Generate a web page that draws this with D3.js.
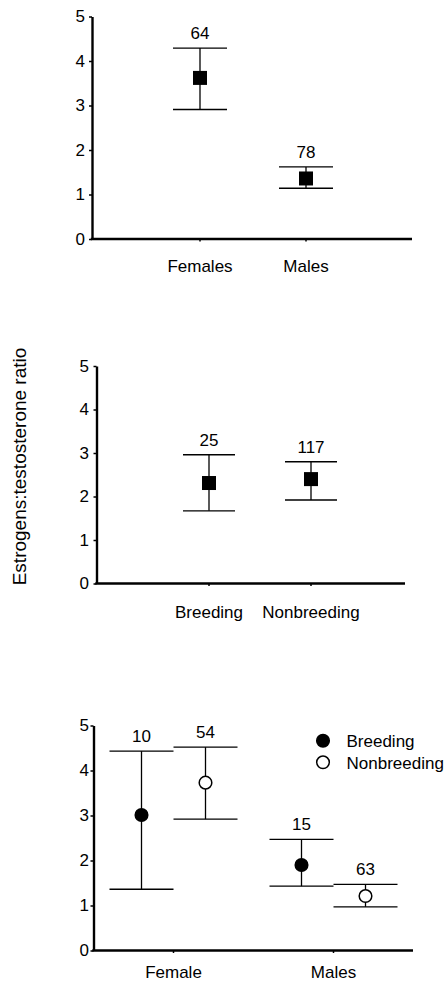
<!DOCTYPE html>
<html><head><meta charset="utf-8">
<script src="https://cdn.jsdelivr.net/npm/d3@7"></script>
<style>
body{margin:0;background:#fff}
svg{display:block}
text{font-family:"Liberation Sans",Arial,Helvetica,sans-serif;fill:#000}
</style>
</head><body>
<svg id="c" width="447" height="982"></svg>
<script>
// ---------------- DATA ----------------
const yTicks = [0, 1, 2, 3, 4, 5];
const yAxisTitle = "Estrogens:testosterone ratio";

// Panel A: by sex
const sexCategories = ["Females", "Males"];
const sexMeans = [3.62, 1.36];
const sexUpper = [4.29, 1.62];
const sexLower = [2.91, 1.14];
const sexN = [64, 78];

// Panel B: by season
const seasonCategories = ["Breeding", "Nonbreeding"];
const seasonMeans = [2.31, 2.40];
const seasonUpper = [2.96, 2.80];
const seasonLower = [1.67, 1.92];
const seasonN = [25, 117];

// Panel C: sex x season
const groupCategories = ["Female", "Males"];
const seriesNames = ["Breeding", "Nonbreeding"];
const breedingMeans = [3.01, 1.90];
const breedingUpper = [4.43, 2.47];
const breedingLower = [1.36, 1.43];
const breedingN = [10, 15];
const nonbreedingMeans = [3.73, 1.21];
const nonbreedingUpper = [4.52, 1.47];
const nonbreedingLower = [2.92, 0.97];
const nonbreedingN = [54, 63];

// ---------------- LAYOUT ----------------
const svg = d3.select("#c");
const FS = 17;

const layout = [
  {axisX: 92,   xEnd: 412, y0: 239,   y5: 16.5,  cat: [94, 412],   capHalf: 27, tickPad: 4, labelDy: 33},
  {axisX: 96.5, xEnd: 405, y0: 583.5, y5: 366,   cat: [107, 413],  capHalf: 26, tickPad: 4.5, labelDy: 34.5},
  {axisX: 93.5, xEnd: 413, y0: 950.5, y5: 725.5, cat: [93.5, 413.5], capHalf: 32, tickPad: 1.5, labelDy: 27.5}
];
const nGap = 9;

function axes(L) {
  const y = d3.scaleLinear().domain([0, 5]).range([L.y0, L.y5]);
  const g = svg.append("g");
  const ya = g.append("g").attr("transform", `translate(${L.axisX},0)`)
    .call(d3.axisLeft(y).tickValues(yTicks).tickFormat(d3.format("d"))
      .tickSize(3).tickSizeOuter(0).tickPadding(L.tickPad));
  ya.select(".domain").attr("stroke", "#000").attr("stroke-width", 2.4);
  ya.selectAll(".tick line").attr("stroke", "#000").attr("stroke-width", 1.5);
  ya.selectAll(".tick text").style("font-size", FS + "px").attr("font-family", null).attr("fill", "#000");
  g.append("line").attr("x1", L.axisX - 1.2).attr("x2", L.xEnd)
    .attr("y1", y(0)).attr("y2", y(0)).attr("stroke", "#000").attr("stroke-width", 2.4);
  return {g, y};
}

function errBar(g, cx, y, mean, up, lo, half, n) {
  g.append("line").attr("x1", cx).attr("x2", cx).attr("y1", y(lo)).attr("y2", y(up))
    .attr("stroke", "#000").attr("stroke-width", 1.3);
  [up, lo].forEach(v => g.append("line").attr("x1", cx - half).attr("x2", cx + half)
    .attr("y1", y(v)).attr("y2", y(v)).attr("stroke", "#000").attr("stroke-width", 1.4));
  g.append("text").attr("x", cx).attr("y", y(up) - nGap).attr("text-anchor", "middle")
    .style("font-size", FS + "px").text(n);
}

function xTick(g, cx, y) {
  g.append("line").attr("x1", cx).attr("x2", cx).attr("y1", y(0)).attr("y2", y(0) + 2.5)
    .attr("stroke", "#000").attr("stroke-width", 1.5);
}

function simplePanel(L, cats, means, upper, lower, ns) {
  const {g, y} = axes(L);
  const x = d3.scalePoint().domain(cats).range(L.cat).padding(1);
  cats.forEach((c, i) => {
    const cx = x(c);
    xTick(g, cx, y);
    errBar(g, cx, y, means[i], upper[i], lower[i], L.capHalf, ns[i]);
    g.append("rect").attr("x", cx - 7).attr("y", y(means[i]) - 7).attr("width", 14).attr("height", 14).attr("fill", "#000");
    g.append("text").attr("x", cx).attr("y", y(0) + L.labelDy).attr("text-anchor", "middle")
      .style("font-size", FS + "px").text(c);
  });
}

simplePanel(layout[0], sexCategories, sexMeans, sexUpper, sexLower, sexN);
simplePanel(layout[1], seasonCategories, seasonMeans, seasonUpper, seasonLower, seasonN);

// Panel C
(function () {
  const L = layout[2];
  const {g, y} = axes(L);
  const x0 = d3.scaleBand().domain(groupCategories).range(L.cat).padding(0);
  const x1 = d3.scaleBand().domain(seriesNames).range([-64, 64]).padding(0);
  const series = [
    {name: seriesNames[0], m: breedingMeans, u: breedingUpper, l: breedingLower, n: breedingN, fill: "#000"},
    {name: seriesNames[1], m: nonbreedingMeans, u: nonbreedingUpper, l: nonbreedingLower, n: nonbreedingN, fill: "#fff"}
  ];
  groupCategories.forEach((c, i) => {
    const gc = x0(c) + x0.bandwidth() / 2;
    xTick(g, gc, y);
    g.append("text").attr("x", gc).attr("y", y(0) + L.labelDy).attr("text-anchor", "middle")
      .style("font-size", FS + "px").text(c);
    series.forEach(s => {
      const cx = gc + x1(s.name) + x1.bandwidth() / 2;
      errBar(g, cx, y, s.m[i], s.u[i], s.l[i], L.capHalf, s.n[i]);
      g.append("circle").attr("cx", cx).attr("cy", y(s.m[i])).attr("r", 6.3)
        .attr("fill", s.fill).attr("stroke", "#000").attr("stroke-width", 1.5);
    });
  });
  // legend
  const lg = svg.append("g").attr("transform", "translate(323,740.7)");
  series.forEach((s, i) => {
    lg.append("circle").attr("cx", 0).attr("cy", i * 21.6).attr("r", 6.3)
      .attr("fill", s.fill).attr("stroke", "#000").attr("stroke-width", 1.5);
    lg.append("text").attr("x", 23.5).attr("y", i * 21.6 + 6.3)
      .style("font-size", FS + "px").text(s.name);
  });
})();

// Y axis title
svg.append("text").attr("transform", "translate(26,466.5) rotate(-90)")
  .attr("text-anchor", "middle").style("font-size", "19px").text(yAxisTitle);
</script>
</body></html>
